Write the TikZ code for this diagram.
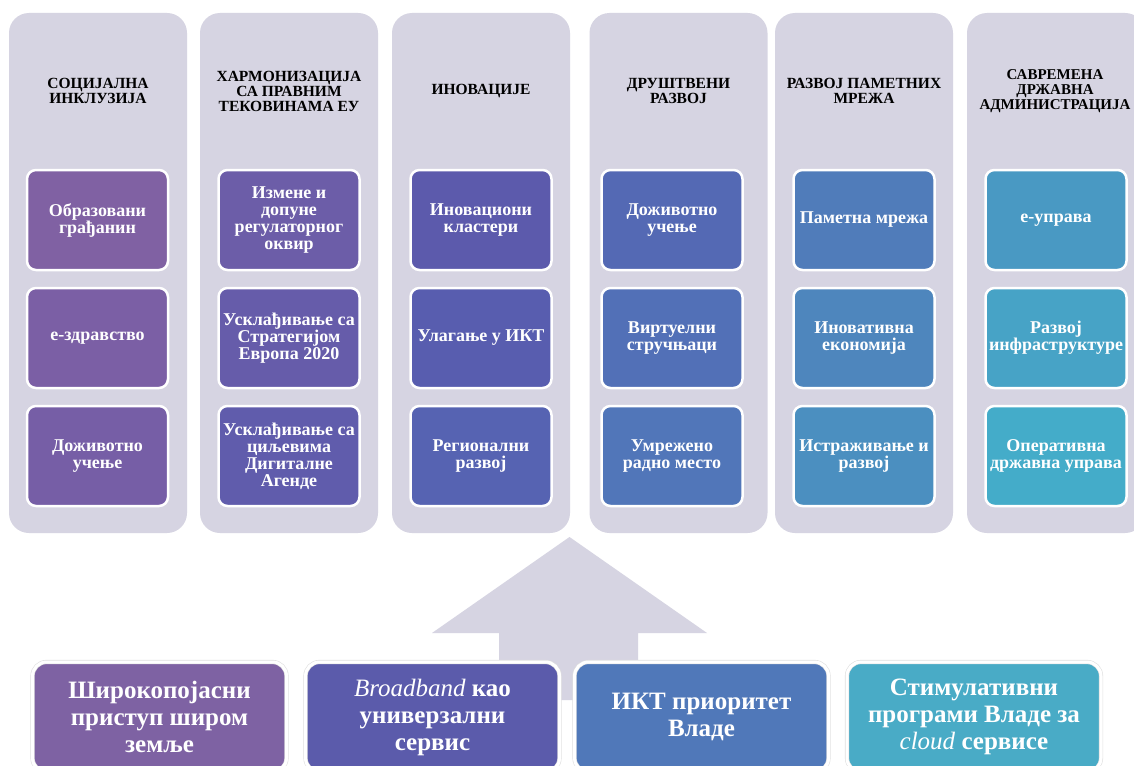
\documentclass[tikz,border=0pt]{standalone}
\usepackage{fontspec}
\setmainfont{Liberation Serif}
\usepackage{tikz}

\definecolor{colbg}{RGB}{214,212,226}
\definecolor{c1a}{RGB}{128,97,163}
\definecolor{c1b}{RGB}{123,95,165}
\definecolor{c1c}{RGB}{118,94,166}
\definecolor{c2a}{RGB}{108,93,168}
\definecolor{c2b}{RGB}{102,92,170}
\definecolor{c2c}{RGB}{96,92,172}
\definecolor{c3a}{RGB}{92,90,172}
\definecolor{c3b}{RGB}{88,93,175}
\definecolor{c3c}{RGB}{86,99,178}
\definecolor{c4a}{RGB}{84,105,180}
\definecolor{c4b}{RGB}{82,112,183}
\definecolor{c4c}{RGB}{81,118,185}
\definecolor{c5a}{RGB}{80,124,186}
\definecolor{c5b}{RGB}{78,134,189}
\definecolor{c5c}{RGB}{75,143,192}
\definecolor{c6a}{RGB}{73,153,195}
\definecolor{c6b}{RGB}{71,163,198}
\definecolor{c6c}{RGB}{68,172,201}
\definecolor{b1c}{RGB}{126,98,163}
\definecolor{b2c}{RGB}{91,91,171}
\definecolor{b3c}{RGB}{80,120,185}
\definecolor{b4c}{RGB}{73,171,198}

\begin{document}
\begin{tikzpicture}[x=1pt, y=-1pt,
    every node/.style={align=center, inner sep=0pt},
    col/.style={fill=colbg, rounded corners=20pt, minimum width=178pt, minimum height=520pt},
    head/.style={font=\bfseries\fontsize{15.5}{15}\selectfont},
    item/.style={fill=#1, draw=white, line width=2.5pt, rounded corners=9pt, text=white,
      minimum width=141pt, minimum height=100pt, font=\bfseries\fontsize{18}{17}\selectfont},
    base/.style={fill=#1, draw=black!12, double=white, double distance=3pt, line width=.6pt,
      rounded corners=14pt, text=white, minimum width=254pt, minimum height=110pt,
      font=\bfseries\fontsize{25}{27}\selectfont}]
    \useasboundingbox (0, 0) rectangle (1134, 765);
    \clip (0, 0) rectangle (1134, 765);
    \fill [white] (0, 0) rectangle (1134, 765);

    % columns
    \node [col] (c1) at (98, 273) {};
    \node [col] (c2) at (289, 273) {};
    \node [col] (c3) at (481, 273) {};
    \node [col] (c4) at (678.5, 273) {};
    \node [col] (c5) at (864, 273) {};
    \node [col] (c6) at (1056, 273) {};

    % headings
    \node [head] (h1) at (98, 91) {СОЦИЈАЛНА\\ИНКЛУЗИЈА};
    \node [head] (h2) at (289, 91) {ХАРМОНИЗАЦИЈА\\СА ПРАВНИМ\\ТЕКОВИНАМА ЕУ};
    \node [head] (h3) at (481, 91) {ИНОВАЦИЈЕ};
    \node [head] (h4) at (678.5, 91) {ДРУШТВЕНИ\\РАЗВОЈ};
    \node [head] (h5) at (864, 91) {РАЗВОЈ ПАМЕТНИХ\\МРЕЖА};
    \node [head, font=\bfseries\fontsize{15}{15}\selectfont] (h6) at (1055, 91) {САВРЕМЕНА\\ДРЖАВНА\\АДМИНИСТРАЦИЈА};

    % items
    \node [item=c1a] (c1a) at (97.5, 220) {Образовани\\грађанин};
    \node [item=c1b] (c1b) at (97.5, 338) {е-здравство};
    \node [item=c1c] (c1c) at (97.5, 456) {Доживотно\\учење};
    \node [item=c2a] (c2a) at (289, 220) {Измене и\\допуне\\регулаторног\\оквир};
    \node [item=c2b] (c2b) at (289, 338) {Усклађивање са\\Стратегијом\\Европа 2020};
    \node [item=c2c] (c2c) at (289, 456) {Усклађивање са\\циљевима\\Дигиталне\\Агенде};
    \node [item=c3a] (c3a) at (481, 220) {Иновациони\\кластери};
    \node [item=c3b] (c3b) at (481, 338) {Улагање у ИКТ};
    \node [item=c3c] (c3c) at (481, 456) {Регионални\\развој};
    \node [item=c4a] (c4a) at (672, 220) {Доживотно\\учење};
    \node [item=c4b] (c4b) at (672, 338) {Виртуелни\\стручњаци};
    \node [item=c4c] (c4c) at (672, 456) {Умрежено\\радно место};
    \node [item=c5a] (c5a) at (864, 220) {Паметна мрежа};
    \node [item=c5b] (c5b) at (864, 338) {Иновативна\\економија};
    \node [item=c5c] (c5c) at (864, 456) {Истраживање и\\развој};
    \node [item=c6a] (c6a) at (1056, 220) {е-управа};
    \node [item=c6b] (c6b) at (1056, 338) {Развој\\инфраструктуре};
    \node [item=c6c] (c6c) at (1056, 456) {Оперативна\\државна управа};

    % big arrow
    \fill [colbg] (569.5, 537) -- (707, 633) -- (638, 633) -- (638, 700)
      -- (499, 700) -- (499, 633) -- (432, 633) -- cycle;

    % base
    \node [base=b1c] (b1) at (159.5, 717) {Широкопојасни\\приступ широм\\земље};
    \node [base=b2c] (b2) at (432.5, 717) {\textmd{\textit{Broadband}} као\\универзални\\сервис};
    \node [base=b3c] (b3) at (701.5, 717) {ИКТ приоритет\\Владе};
    \node [base=b4c] (b4) at (974, 717) {Стимулативни\\програми Владе за\\\textmd{\textit{cloud}} сервисе};
  \end{tikzpicture}
\end{document}
